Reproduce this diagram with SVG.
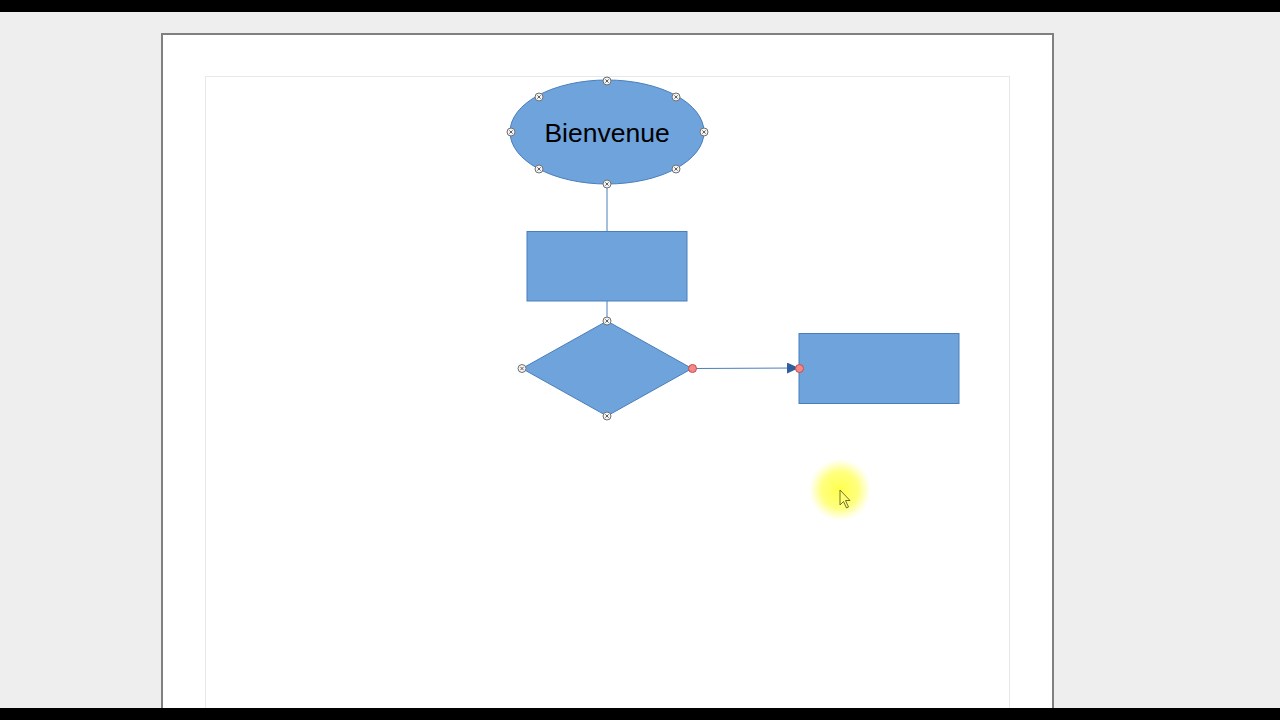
<svg xmlns="http://www.w3.org/2000/svg" width="1280" height="720" viewBox="0 0 1280 720">
<defs>
<style>
.shape{fill:#6fa3dc;stroke:#4a7ebb;stroke-width:1}
.conn{stroke:#4a7ebb;stroke-width:1;fill:none}
.h{fill:#f4f4f4;stroke:#707070;stroke-width:1}
.hx{stroke:#505050;stroke-width:0.9}
.hr{fill:#f08a8a;stroke:#d04848;stroke-width:1}
</style>
<marker id="arr" viewBox="0 0 12 11" refX="12" refY="5.5" markerWidth="12" markerHeight="11" markerUnits="userSpaceOnUse" orient="auto">
<path d="M0,0 L12,5.5 L0,11 z" fill="#2f5f9e"/>
</marker>
<radialGradient id="glow">
<stop offset="0" stop-color="#ffff40" stop-opacity="0.95"/>
<stop offset="0.6" stop-color="#ffff60" stop-opacity="0.8"/>
<stop offset="1" stop-color="#ffff80" stop-opacity="0"/>
</radialGradient>
<g id="hd"><circle r="4" class="h"/><path d="M-1.6,-1.6 L1.6,1.6 M1.6,-1.6 L-1.6,1.6" class="hx"/></g>
</defs>
<rect x="0" y="0" width="1280" height="720" fill="#eeeeee"/>
<g id="page">
<rect x="162" y="34" width="891" height="700" fill="#ffffff" stroke="#808080" stroke-width="2"/>
<rect x="205.5" y="76.5" width="804" height="660" fill="none" stroke="#e8e8e8" stroke-width="1"/>
</g>
<g id="connectors">
<line x1="607" y1="184" x2="607" y2="231" class="conn"/>
<line x1="607" y1="301" x2="607" y2="321" class="conn"/>
<line x1="692" y1="368.5" x2="799" y2="368" class="conn" marker-end="url(#arr)"/>
</g>
<g id="node-bienvenue">
<ellipse cx="607" cy="132" rx="97" ry="52" class="shape"/>
<text x="607" y="141.5" text-anchor="middle" font-family="Liberation Sans, Arial, sans-serif" font-size="26.5" fill="#000000">Bienvenue</text>
<use href="#hd" x="607" y="81"/>
<use href="#hd" x="539" y="97"/>
<use href="#hd" x="676" y="97"/>
<use href="#hd" x="511" y="132"/>
<use href="#hd" x="704" y="132"/>
<use href="#hd" x="539" y="169"/>
<use href="#hd" x="676" y="169"/>
<use href="#hd" x="607" y="184"/>
</g>
<g id="node-process">
<rect x="527" y="231.5" width="160" height="69.5" class="shape"/>
</g>
<g id="node-decision">
<polygon points="607,321 692,368.5 607,416 522,368.5" class="shape"/>
<use href="#hd" x="607" y="321"/>
<use href="#hd" x="522" y="368.5"/>
<use href="#hd" x="607" y="416"/>
<circle cx="692.5" cy="368.5" r="4" class="hr"/>
</g>
<g id="node-target">
<rect x="799" y="333.5" width="160" height="70" class="shape"/>
<circle cx="799.5" cy="368.5" r="4" class="hr"/>
</g>
<g id="cursor">
<circle cx="840" cy="490" r="31" fill="url(#glow)"/>
<path d="M840,490 L840,505 L843.5,501.5 L846.5,508 L848.5,507 L845.5,500.5 L850,500.5 Z" fill="#ffff70" stroke="#606030" stroke-width="0.9"/>
</g>
<rect x="0" y="0" width="1280" height="12" fill="#000000"/>
<rect x="0" y="708" width="1280" height="12" fill="#000000"/>
</svg>
